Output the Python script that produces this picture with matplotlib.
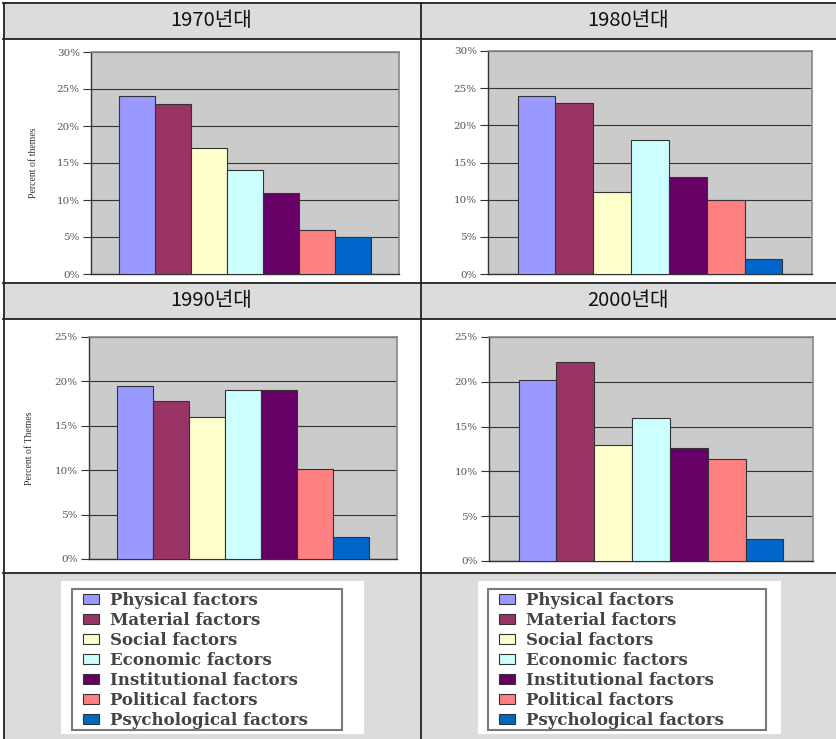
import matplotlib.pyplot as plt
from matplotlib.patches import Rectangle, Patch
from matplotlib.lines import Line2D
from matplotlib.ticker import FuncFormatter

W, H = 836, 739

factors = ['Physical factors', 'Material factors', 'Social factors', 'Economic factors',
           'Institutional factors', 'Political factors', 'Psychological factors']
colors = ['#9999ff', '#993366', '#ffffcc', '#ccffff', '#660066', '#ff8080', '#0066cc']

decades = ['1970년대', '1980년대', '1990년대', '2000년대']
vals_1970 = [24, 23, 17, 14, 11, 6, 5]
vals_1980 = [24, 23, 11, 18, 13, 10, 2]
vals_1990 = [19.5, 17.8, 16, 19, 19, 10.1, 2.5]
vals_2000 = [20.2, 22.2, 13, 16, 12.6, 11.4, 2.5]
ymax = [30, 30, 25, 25]
ylabels = ['Percent of themes', None, 'Percent of Themes', None]


def box(x0, y0, x1, y1):
    # pixel box -> figure fraction
    return [x0 / W, 1 - y1 / H, (x1 - x0) / W, (y1 - y0) / H]


def add_rect(px, **kw):
    x0, y0, w, h = box(*px)
    fig.patches.append(Rectangle((x0, y0), w, h, transform=fig.transFigure, **kw))


fig = plt.figure(figsize=(W / 100, H / 100), dpi=100)
fig.patch.set_facecolor('white')

gray = '#dcdcdc'
for y0, y1 in [(3, 39), (283, 319), (573, 739)]:
    add_rect((3, y0, W, y1), facecolor=gray, edgecolor='none', zorder=0)

# white boxes + frames for the legends
for wb in [(61, 581, 364, 734), (478, 581, 781, 734)]:
    add_rect(wb, facecolor='white', edgecolor='none', zorder=1)
for fr in [(72, 589, 342, 730), (488, 589, 766, 730)]:
    add_rect(fr, facecolor='none', edgecolor='#7a7a7a', linewidth=1.5, zorder=2)

line_kw = dict(transform=fig.transFigure, color='#222222', lw=1.3, zorder=5)
for y in [3, 39, 283, 319, 573]:
    fig.lines.append(Line2D([3 / W, 1], [1 - y / H, 1 - y / H], **line_kw))
for x in [3.5, 420.5]:
    fig.lines.append(Line2D([x / W, x / W], [0, 1 - 3 / H], **line_kw))

# header titles
for (cx, cy), label in zip([(211, 21), (628, 21), (211, 301), (628, 301)], decades):
    fig.text(cx / W, 1 - cy / H, label, ha='center', va='center', fontsize=14.5,
             family=['Noto Sans CJK KR', 'DejaVu Sans'], color='#111111')

axes_px = [(91, 52, 399, 274), (488, 51, 812, 274), (89, 337, 397, 559), (489, 337, 813, 561)]
all_vals = [vals_1970, vals_1980, vals_1990, vals_2000]
ylab_x = [-0.172, None, -0.18, None]

pct = FuncFormatter(lambda v, p: f'{v:.0f}%')

for i in range(4):
    ax = fig.add_axes(box(*axes_px[i]))
    ax.set_facecolor('#cbcbcb')
    xs = range(len(factors))
    ax.bar(xs, all_vals[i], width=1.0, color=colors, edgecolor='#333333', linewidth=0.8, zorder=3)
    ax.set_xlim(-1.28, 7.28)
    ax.set_ylim(0, ymax[i])
    ax.set_yticks(range(0, ymax[i] + 1, 5))
    ax.yaxis.set_major_formatter(pct)
    ax.set_xticks([])
    ax.grid(axis='y', color='#333333', linewidth=0.8, zorder=1)
    ax.tick_params(axis='y', length=6, width=0.8, color='#333333', labelsize=7.5,
                   labelcolor='#555555', pad=2)
    for lab in ax.get_yticklabels():
        lab.set_family('DejaVu Serif')
    for s in ['left', 'bottom']:
        ax.spines[s].set_color('#333333')
        ax.spines[s].set_linewidth(1.0)
    for s in ['right', 'top']:
        ax.spines[s].set_color('#888888')
        ax.spines[s].set_linewidth(1.2)
    if ylabels[i]:
        ax.set_ylabel(ylabels[i], family='Liberation Serif', fontsize=7, color='#333333')
        ax.yaxis.set_label_coords(ylab_x[i], 0.5)

# legends in the bottom row
handles = [Patch(facecolor=c, edgecolor='#333333', linewidth=0.8) for c in colors]
for fx, fy in [(83, 592), (499, 592)]:
    leg = fig.legend(handles, factors, loc='upper left', bbox_to_anchor=(fx / W, 1 - fy / H),
                     prop={'family': 'DejaVu Serif', 'size': 12, 'weight': 'bold'},
                     handlelength=0.96, handleheight=0.48, handletextpad=0.66,
                     labelspacing=0.18, borderpad=0, borderaxespad=0,
                     frameon=False, labelcolor='#444444')
    leg.set_zorder(6)

fig.savefig('out.png', dpi=100)
